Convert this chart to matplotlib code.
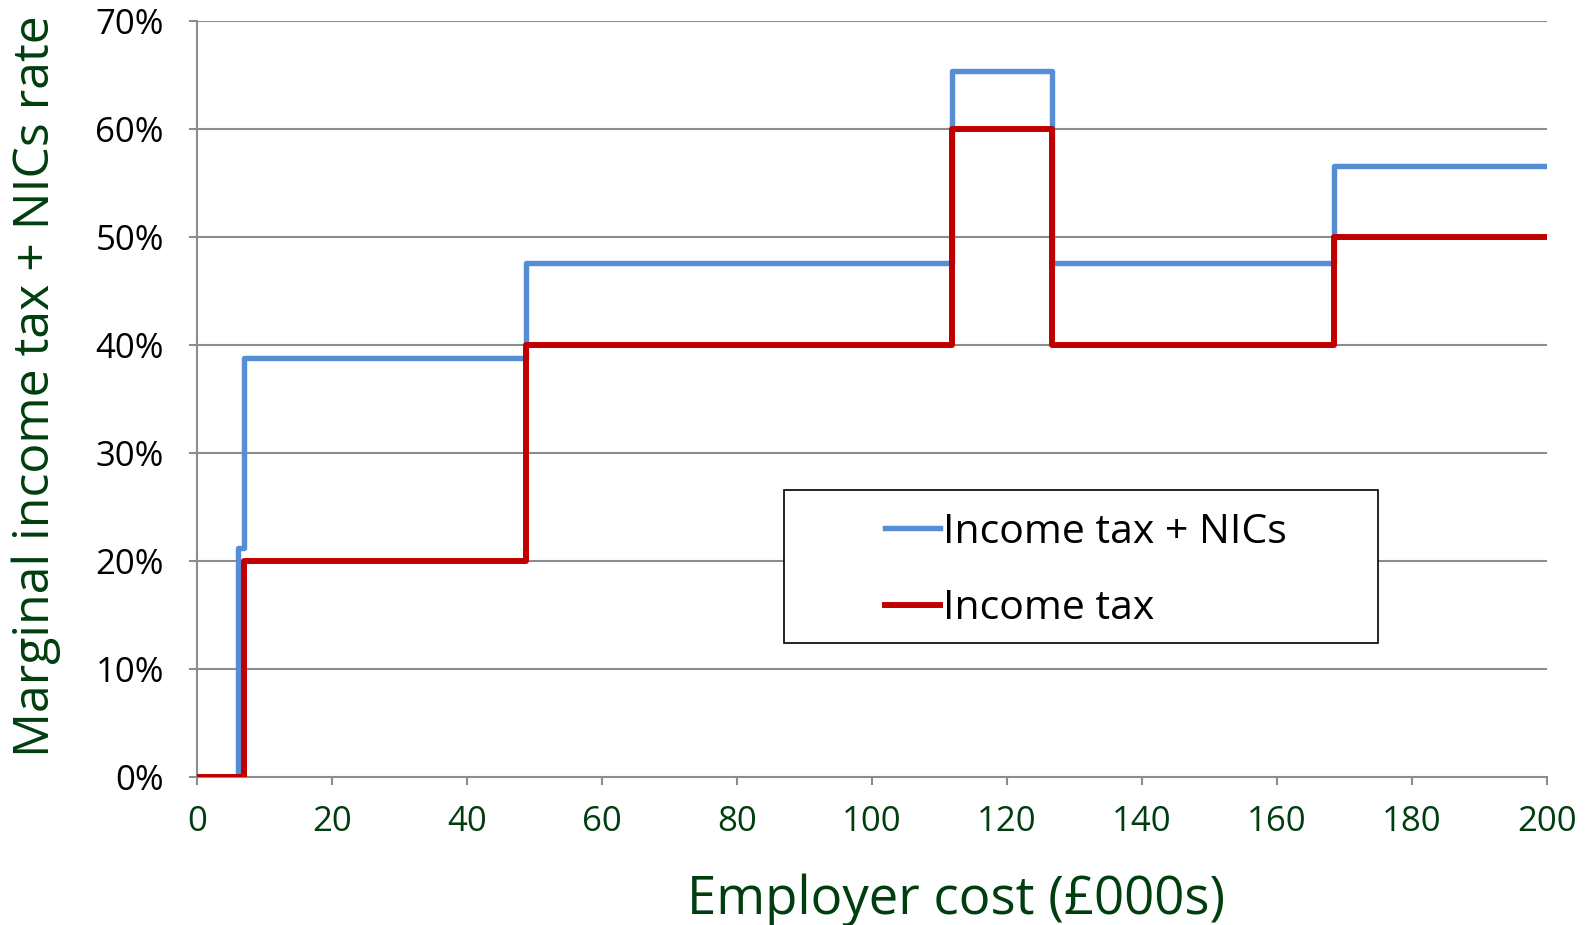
import matplotlib.pyplot as plt
from matplotlib.patches import Rectangle

plt.rcParams['font.family'] = ['Open Sans', 'DejaVu Sans']

# step points: employer cost (£000s) where the rate changes, and the rate from there on
nics_x = [0, 6.1, 6.9, 48.7, 111.8, 126.7, 168.5, 200]
nics_rate = [0, 21.2, 38.8, 47.6, 65.4, 47.6, 56.6, 56.6]

tax_x = [0, 6.9, 48.7, 111.8, 126.7, 168.5, 200]
tax_rate = [0, 20, 40, 60, 40, 50, 50]

x_ticks = [0, 20, 40, 60, 80, 100, 120, 140, 160, 180, 200]
y_ticks = [0, 10, 20, 30, 40, 50, 60, 70]

blue = '#558ED5'
red = '#C00000'
green = '#003D0F'
grey = '#8C8C8C'

fig = plt.figure(figsize=(15.86, 9.25), dpi=100)
ax = fig.add_axes([0.1244, 0.1602, 0.8508, 0.8168])

for y in y_ticks[1:]:
    ax.axhline(y, color=grey, linewidth=1.5, zorder=1)

ax.step(nics_x, nics_rate, where='post', color=blue, linewidth=3.9,
        label='Income tax + NICs', zorder=3, solid_joinstyle='round')
ax.step(tax_x, tax_rate, where='post', color=red, linewidth=4.3,
        label='Income tax', zorder=4, solid_joinstyle='round')

ax.set_xlim(0, 200)
ax.set_ylim(0, 70)
ax.set_xticks(x_ticks)
ax.set_yticks(y_ticks)
ax.set_yticklabels([f'{v}%' for v in y_ticks])

for s in ['top', 'right']:
    ax.spines[s].set_visible(False)
for s in ['left', 'bottom']:
    ax.spines[s].set_color(grey)
    ax.spines[s].set_linewidth(1.5)

ax.tick_params(axis='both', color=grey, width=1.5, length=6)
ax.tick_params(axis='x', labelsize=25, labelcolor=green, pad=14)
ax.tick_params(axis='y', labelsize=25, labelcolor='black', pad=18)

ax.set_xlabel('Employer cost (£000s)', fontsize=38, color=green)
ax.xaxis.set_label_coords(0.562, -0.164)
ax.xaxis.label.set_va('center')
ax.set_ylabel('Marginal income tax + NICs rate', fontsize=36, color=green)
ax.yaxis.set_label_coords(-0.119, 0.517)
ax.yaxis.label.set_va('center')

# legend box
ax.add_patch(Rectangle((0.435, 0.177), 0.44, 0.202, transform=ax.transAxes,
                       facecolor='white', edgecolor='black', linewidth=1.2, zorder=5))
leg = ax.legend(loc='center left', bbox_to_anchor=(0.51, 0.273), frameon=False,
                fontsize=29.5, handlelength=1.34, handletextpad=0.07, labelspacing=0.88,
                borderpad=0, borderaxespad=0)
leg.set_zorder(6)

fig.savefig('out.png', dpi=100)
